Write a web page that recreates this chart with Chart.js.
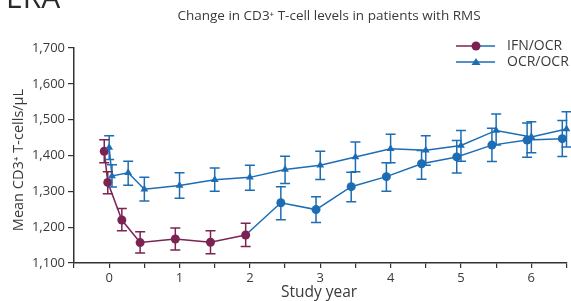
<!DOCTYPE html>
<html>
<head>
<meta charset="utf-8">
<script src="https://cdn.jsdelivr.net/npm/chart.js@4.4.1/dist/chart.umd.min.js"></script>
<style>
  html, body { margin: 0; padding: 0; background: #fff; }
  #wrap { width: 571px; height: 301px; position: relative; }
</style>
</head>
<body>
<div id="wrap"><canvas id="cd3Chart" width="571" height="301"></canvas></div>
<script>
// datos
const yTicks = [1100, 1200, 1300, 1400, 1500, 1600, 1700];
const xTickLabels = ['0', '1', '2', '3', '4', '5', '6'];

const ifnYears = [-0.07, -0.02, 0.18, 0.44, 0.94, 1.44, 1.94, 2.44, 2.94, 3.44, 3.94, 4.44, 4.94, 5.44, 5.94, 6.44];
const ifnMean  = [1412, 1325, 1220, 1157, 1167, 1158, 1178, 1268, 1249, 1313, 1341, 1377, 1396, 1429, 1443, 1447];
const ifnHigh  = [1444, 1355, 1252, 1187, 1198, 1190, 1211, 1313, 1285, 1353, 1380, 1414, 1442, 1476, 1491, 1498];
const ifnLow   = [1380, 1293, 1190, 1128, 1136, 1126, 1146, 1221, 1213, 1271, 1300, 1334, 1351, 1383, 1395, 1397];
const switchYear = 2; // IFN -> OCR

const ocrYears = [0, 0.04, 0.27, 0.5, 1, 1.5, 2, 2.5, 3, 3.5, 4, 4.5, 5, 5.5, 6, 6.5];
const ocrMean  = [1422, 1343, 1352, 1306, 1316, 1332, 1339, 1361, 1373, 1396, 1419, 1415, 1428, 1470, 1452, 1474];
const ocrHigh  = [1455, 1374, 1384, 1339, 1352, 1365, 1373, 1398, 1412, 1438, 1459, 1455, 1470, 1516, 1494, 1522];
const ocrLow   = [1389, 1312, 1317, 1273, 1281, 1300, 1303, 1322, 1333, 1355, 1380, 1373, 1384, 1429, 1408, 1424];

const PURPLE = '#7b2352';
const BLUE = '#1d6db4';
const TEXT = '#3a3a3a';
const FONT = '"Open Sans", "Noto Sans", sans-serif';

const ifnColor = x => (x < switchYear ? PURPLE : BLUE);

// barras de error
const errorBars = {
  id: 'errorBars',
  afterDatasetsDraw(chart) {
    const ctx = chart.ctx;
    const xs = chart.scales.x, ys = chart.scales.y;
    const draw = (years, lo, hi, colorFn) => {
      years.forEach((yr, i) => {
        const px = xs.getPixelForValue(yr);
        const pl = ys.getPixelForValue(lo[i]);
        const ph = ys.getPixelForValue(hi[i]);
        ctx.save();
        ctx.strokeStyle = colorFn(yr);
        ctx.lineWidth = 1.5;
        ctx.beginPath();
        ctx.moveTo(px, pl); ctx.lineTo(px, ph);
        ctx.moveTo(px - 5, pl); ctx.lineTo(px + 5, pl);
        ctx.moveTo(px - 5, ph); ctx.lineTo(px + 5, ph);
        ctx.stroke();
        ctx.restore();
      });
    };
    draw(ocrYears, ocrLow, ocrHigh, () => BLUE);
    draw(ifnYears, ifnLow, ifnHigh, ifnColor);
  }
};

// textos: encabezado, título, leyenda, títulos de ejes
const annotations = {
  id: 'annotations',
  afterDraw(chart) {
    const ctx = chart.ctx;
    ctx.save();
    // encabezado recortado
    ctx.fillStyle = '#2a2a2a';
    ctx.font = '30px ' + FONT;
    ctx.textBaseline = 'alphabetic';
    ctx.textAlign = 'left';
    const opW = ctx.measureText('OP').width;
    ctx.fillText('OPERA', 6 - opW, 8);

    ctx.fillStyle = TEXT;
    ctx.font = '13.5px ' + FONT;
    ctx.textAlign = 'center';
    ctx.textBaseline = 'middle';
    ctx.fillText('Change in CD3\u207A T-cell levels in patients with RMS', 329, 16);

    // leyenda
    ctx.font = '14px ' + FONT;
    ctx.textAlign = 'left';
    const lx0 = 456, lx1 = 495, lmid = 476;
    ctx.lineWidth = 1.5;
    ctx.strokeStyle = PURPLE;
    ctx.beginPath(); ctx.moveTo(lx0, 46); ctx.lineTo(lmid, 46); ctx.stroke();
    ctx.strokeStyle = BLUE;
    ctx.beginPath(); ctx.moveTo(lmid, 46); ctx.lineTo(lx1, 46); ctx.stroke();
    ctx.fillStyle = PURPLE;
    ctx.beginPath(); ctx.arc(lmid, 46, 4.5, 0, Math.PI * 2); ctx.fill();
    ctx.fillStyle = TEXT;
    ctx.fillText('IFN/OCR', 507, 46);

    ctx.strokeStyle = BLUE;
    ctx.beginPath(); ctx.moveTo(lx0, 62); ctx.lineTo(lx1, 62); ctx.stroke();
    ctx.fillStyle = BLUE;
    ctx.beginPath();
    ctx.moveTo(lmid, 58); ctx.lineTo(lmid + 4.5, 65); ctx.lineTo(lmid - 4.5, 65); ctx.closePath();
    ctx.fill();
    ctx.fillStyle = TEXT;
    ctx.fillText('OCR/OCR', 507, 62);

    // títulos de ejes
    ctx.font = '15.5px ' + FONT;
    ctx.textAlign = 'center';
    ctx.fillText('Study year', 319, 293);
    ctx.font = '14.5px ' + FONT;
    ctx.translate(19, 160);
    ctx.rotate(-Math.PI / 2);
    ctx.fillText('Mean CD3\u207A T-cells/\u03BCL', 0, 0);
    ctx.restore();
  }
};

const ctx = document.getElementById('cd3Chart').getContext('2d');
new Chart(ctx, {
  type: 'scatter',
  data: {
    datasets: [
      {
        label: 'OCR/OCR',
        data: ocrYears.map((x, i) => ({ x, y: ocrMean[i] })),
        showLine: true,
        borderColor: BLUE,
        backgroundColor: BLUE,
        borderWidth: 1.5,
        pointStyle: 'triangle',
        pointRadius: 4.5,
        pointBorderWidth: 0,
        clip: false
      },
      {
        label: 'IFN/OCR',
        data: ifnYears.map((x, i) => ({ x, y: ifnMean[i] })),
        showLine: true,
        borderColor: BLUE,
        borderWidth: 1.5,
        backgroundColor: ifnYears.map(ifnColor),
        pointBackgroundColor: ifnYears.map(ifnColor),
        pointRadius: 4.5,
        pointBorderWidth: 0,
        segment: {
          borderColor: c => (c.p1.parsed.x < switchYear ? PURPLE : BLUE)
        },
        clip: false
      }
    ]
  },
  options: {
    responsive: false,
    animation: false,
    events: [],
    layout: { padding: { top: 48, right: 4, left: 0, bottom: 0 } },
    plugins: {
      legend: { display: false },
      title: { display: false },
      tooltip: { enabled: false }
    },
    scales: {
      x: {
        type: 'linear',
        min: -0.5,
        max: 6.5,
        afterFit: s => { s.height = 38; },
        afterBuildTicks: s => {
          const t = [];
          for (let v = -0.5; v <= 6.5001; v += 0.5) t.push({ value: Math.round(v * 10) / 10 });
          s.ticks = t;
        },
        ticks: {
          autoSkip: false,
          maxRotation: 0,
          padding: 2,
          color: TEXT,
          font: { family: FONT, size: 13 },
          callback: v => (Number.isInteger(v) && v >= 0 ? xTickLabels[v] : '')
        },
        grid: { drawOnChartArea: false, drawTicks: true, tickLength: 5, color: '#333', lineWidth: 1.2 },
        border: { display: true, color: '#333', width: 1.5 }
      },
      y: {
        min: yTicks[0],
        max: yTicks[yTicks.length - 1],
        afterFit: s => { s.width = 74; },
        afterBuildTicks: s => { s.ticks = yTicks.map(v => ({ value: v })); },
        ticks: {
          padding: 3,
          color: TEXT,
          font: { family: FONT, size: 13 },
          callback: v => v.toLocaleString('en-US')
        },
        grid: { drawOnChartArea: false, drawTicks: true, tickLength: 6, color: '#333', lineWidth: 1.2 },
        border: { display: true, color: '#333', width: 1.5 }
      }
    }
  },
  plugins: [errorBars, annotations]
});
</script>
</body>
</html>
